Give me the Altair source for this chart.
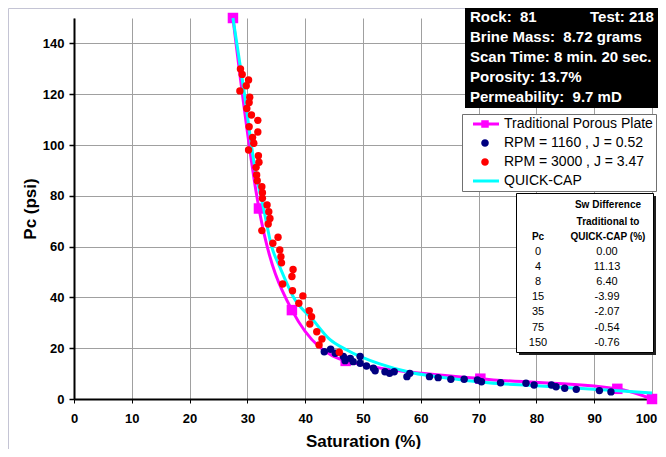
import altair as alt
import pandas as pd

# ---------------- data ----------------
trad_sw = [27.5, 32.0, 37.7, 47.0, 70.3, 94.0, 100.0]
trad_pc = [150, 75, 35, 15, 8, 4, 0]

qc_sw = [27.5, 29.3, 31.3, 32.8, 34.2, 35.6, 38.0, 41.4, 44.0, 47.2, 52.9, 58.7, 64.5, 70.2, 80.0, 90.0, 100.0]
qc_pc = [150, 123, 91, 75, 60, 52, 40, 31, 24, 19.3, 13.8, 10.2, 8.3, 6.7, 5.2, 3.8, 2.4]

rpm3000_sw = [28.8, 29.1, 30.2, 29.8, 28.7, 30.4, 30.3, 29.9, 30.7, 31.8, 30.3, 31.8, 30.9, 31.1,
              30.2, 31.9, 32.0, 31.5, 31.6, 31.7, 32.5, 32.6, 32.6, 33.4, 33.7, 33.9, 33.6, 32.5,
              35.3, 34.4, 35.6, 35.8, 35.9, 37.9, 37.7, 36.1, 37.8, 39.6, 38.9, 40.7, 41.1, 40.8,
              42.0, 42.9, 42.4, 45.9]
rpm3000_pc = [129.9, 127.8, 125.6, 123.3, 121.3, 118.8, 116.7, 114.4, 111.8, 109.7, 107.2, 105.1, 103.0, 100.7,
              98.0, 95.8, 93.2, 91.2, 88.2, 85.9, 83.6, 81.2, 79.0, 76.4, 73.7, 71.1, 68.9, 66.3,
              63.7, 61.3, 58.7, 56.0, 53.6, 51.0, 48.2, 45.3, 42.6, 40.6, 37.7, 34.8, 32.4, 29.5,
              26.5, 23.6, 21.3, 18.4]

rpm1160_sw = [43.3, 44.4, 45.2, 46.6, 46.9, 47.8, 48.3, 49.5, 49.5, 50.6, 51.8, 52.1, 53.8, 54.6, 55.4,
              57.6, 58.1, 61.5, 63.0, 65.2, 67.5, 69.8, 70.5, 73.8, 78.2, 79.6, 82.6, 83.4, 84.9,
              86.9, 90.9, 92.9]
rpm1160_pc = [18.6, 19.6, 18.0, 16.7, 15.1, 16.0, 14.7, 16.7, 14.1, 13.0, 12.1, 11.1, 10.7, 10.1, 10.7,
              8.8, 10.1, 8.8, 8.4, 7.8, 7.8, 7.5, 6.8, 6.4, 6.2, 5.5, 5.5, 4.8, 4.2,
              3.8, 3.3, 2.8]

series_names = ["Traditional Porous Plate", "RPM = 1160 , J = 0.52", "RPM = 3000 , J = 3.47", "QUICK-CAP"]
series_colors = ["#FF00FF", "#000080", "#FF0000", "#00FFFF"]

info_lines = ["Rock:\u00a0\u00a081", "Brine Mass:\u00a0\u00a08.72 grams", "Scan Time: 8 min. 20 sec.",
              "Porosity: 13.7%", "Permeability:\u00a0\u00a09.7 mD"]
info_test = "Test:\u00a0218"

table_pc = ["0", "4", "8", "15", "35", "75", "150"]
table_diff = ["0.00", "11.13", "6.40", "-3.99", "-2.07", "-0.54", "-0.76"]
table_head = ["Sw Difference", "Traditional to", "QUICK-CAP (%)"]

# ---------------- styling ----------------
FONT = "Liberation Sans"
W, H = 578, 381

trad_df = pd.DataFrame({"Sw": trad_sw, "Pc": trad_pc})
qc_df = pd.DataFrame({"Sw": qc_sw, "Pc": qc_pc})
r_df = pd.DataFrame({"Sw": rpm3000_sw, "Pc": rpm3000_pc})
b_df = pd.DataFrame({"Sw": rpm1160_sw, "Pc": rpm1160_pc})

x_enc = alt.X("Sw:Q", title="Saturation (%)",
              scale=alt.Scale(domain=[0, 100], nice=False, zero=False),
              axis=alt.Axis(values=list(range(0, 101, 10)), format="d", labelFlush=False,
                            labelOffset=alt.condition("datum.value == 100", alt.value(-6), alt.value(0)),
                            labelFont=FONT, labelFontSize=13, labelFontWeight="bold", labelColor="black",
                            labelPadding=9, tickSize=4, tickColor="black", tickWidth=1,
                            domainColor="black", domainWidth=2,
                            grid=True, gridColor="#a0a0a0", gridWidth=1,
                            titleFont=FONT, titleFontSize=17, titleFontWeight="bold", titleColor="black",
                            titleX=W / 2, titleY=42, titleBaseline="middle"))
y_enc = alt.Y("Pc:Q", title="Pc (psi)",
              scale=alt.Scale(domain=[0, 150], nice=False),
              axis=alt.Axis(values=list(range(0, 141, 20)), format="d", labelFlush=False,
                            labelFont=FONT, labelFontSize=13, labelFontWeight="bold", labelColor="black",
                            labelPadding=5, tickSize=5, tickColor="black", tickWidth=1.5,
                            domainColor="black", domainWidth=2,
                            grid=True, gridColor="#a0a0a0", gridWidth=1,
                            titleFont=FONT, titleFontSize=17, titleFontWeight="bold", titleColor="black",
                            titleX=-44, titleY=H / 2, titleAngle=270, titleBaseline="middle",
                            titleAlign="center"))

one = pd.DataFrame({"k": [0]})

frame = alt.Chart(one).mark_rect(fillOpacity=0, stroke="#c4c4d4", strokeWidth=1).encode(
    x=alt.value(-65.5), x2=alt.value(700), y=alt.value(-9.5), y2=alt.value(460))

trad_line = alt.Chart(trad_df).mark_line(color="#FF00FF", strokeWidth=3, interpolate="monotone").encode(
    x=x_enc, y=y_enc)
trad_pts = alt.Chart(trad_df).mark_point(shape="square", filled=True, size=110, color="#FF00FF",
                                         opacity=1).encode(x=x_enc, y=y_enc)
qc_line = alt.Chart(qc_df).mark_line(color="#00FFFF", strokeWidth=3, interpolate="monotone").encode(
    x=x_enc, y=y_enc)
b_pts = alt.Chart(b_df).mark_point(shape="circle", filled=True, size=55, color="#000080",
                                   opacity=1).encode(x=x_enc, y=y_enc)
r_pts = alt.Chart(r_df).mark_point(shape="circle", filled=True, size=55, color="#FF0000",
                                   opacity=1).encode(x=x_enc, y=y_enc)

# legend (built from scales; symbol paths give line+square, dots and line)
p_line_sq = "M0.2,-0.3L5.4,-0.3L5.4,0.3L0.2,0.3ZM1.85,-0.75L3.35,-0.75L3.35,0.75L1.85,0.75Z"
p_dot = "M1.84,0A0.76,0.76 0 1,0 3.36,0A0.76,0.76 0 1,0 1.84,0Z"
p_line = "M0.2,-0.3L5.4,-0.3L5.4,0.3L0.2,0.3Z"
leg = alt.Legend(title=None, orient="none", legendX=388, legendY=96, fillColor="white",
                 strokeColor="#707070", padding=3, rowPadding=5, symbolSize=100,
                 symbolStrokeWidth=0, labelOffset=25, labelFont=FONT, labelFontSize=14,
                 labelColor="black", labelLimit=400)
leg_df = pd.DataFrame({"series": series_names, "Sw": [0] * 4, "Pc": [0] * 4})
legend_layer = alt.Chart(leg_df).transform_filter("datum.Sw < 0").mark_point(
    filled=True, opacity=1).encode(
    x=x_enc, y=y_enc,
    color=alt.Color("series:N", scale=alt.Scale(domain=series_names, range=series_colors), legend=leg),
    shape=alt.Shape("series:N", scale=alt.Scale(domain=series_names,
                                                range=[p_line_sq, p_dot, p_dot, p_line]), legend=leg))

# info box (top right)
info_box = alt.Chart(one).mark_rect(fill="black").encode(
    x=alt.value(391), x2=alt.value(700), y=alt.value(-12), y2=alt.value(90))
info_df = pd.DataFrame({"t": info_lines, "px": [396] * 5, "py": [-1.5 + 20 * i for i in range(5)]})
info_df = pd.concat([info_df, pd.DataFrame({"t": [info_test], "px": [516], "py": [-1.5]})])
info_text = alt.Chart(info_df).mark_text(align="left", baseline="middle", font=FONT, fontSize=15,
                                         fontWeight="bold", color="white").encode(
    x=alt.X("px:Q", scale=None, axis=None), y=alt.Y("py:Q", scale=None, axis=None), text="t:N")

# table box
tab_shadow = alt.Chart(one).mark_rect(fill="#202020").encode(
    x=alt.value(445), x2=alt.value(582), y=alt.value(178), y2=alt.value(337))
tab_box = alt.Chart(one).mark_rect(fill="white", stroke="black", strokeWidth=1).encode(
    x=alt.value(442.5), x2=alt.value(579.5), y=alt.value(175.5), y2=alt.value(334.5))
head_df = pd.DataFrame({"t": table_head + ["Pc"], "px": [534, 534, 534, 464],
                        "py": [187, 203.5, 219, 219]})
head_text = alt.Chart(head_df).mark_text(align="center", baseline="middle", font=FONT, fontSize=10,
                                         fontWeight="bold", color="black").encode(
    x=alt.X("px:Q", scale=None, axis=None), y=alt.Y("py:Q", scale=None, axis=None), text="t:N")
rows = pd.DataFrame({"t": table_pc + table_diff,
                     "px": [464] * 7 + [533] * 7,
                     "py": [234 + 15.1 * i for i in range(7)] * 2})
row_text = alt.Chart(rows).mark_text(align="center", baseline="middle", font=FONT, fontSize=11,
                                     color="black").encode(
    x=alt.X("px:Q", scale=None, axis=None), y=alt.Y("py:Q", scale=None, axis=None), text="t:N")

chart = alt.layer(
    frame, trad_line, trad_pts, qc_line, b_pts, r_pts, legend_layer,
    info_box, info_text, tab_shadow, tab_box, head_text, row_text
).properties(
    width=W, height=H,
    padding={"left": 66, "top": 10, "right": 6, "bottom": 50},
    autosize=alt.AutoSizeParams(type="none"),
    background="white",
).configure_view(strokeWidth=0)

chart.save("out.html", embed_options={"renderer": "svg", "actions": False})
